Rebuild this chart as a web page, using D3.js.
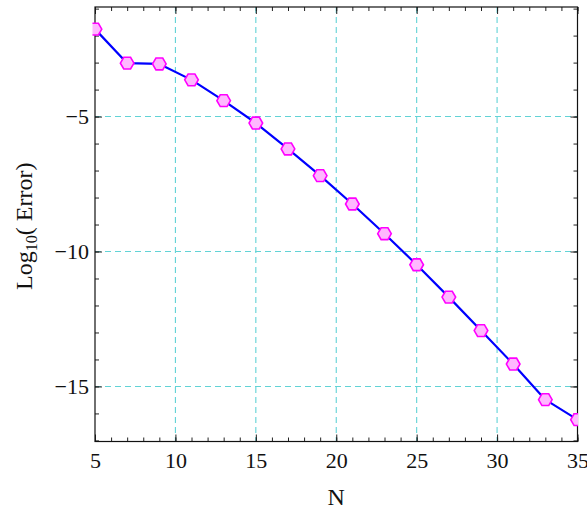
<!DOCTYPE html>
<html>
<head>
<meta charset="utf-8">
<script src="https://cdn.jsdelivr.net/npm/d3@7"></script>
<style>
  html, body { margin: 0; padding: 0; background: #fff; }
  svg { display: block; font-family: "Liberation Serif", "DejaVu Serif", serif; }
</style>
</head>
<body>
<div id="vizHolder"></div>
<script>
// values
var nValues   = [5, 7, 9, 11, 13, 15, 17, 19, 21, 23, 25, 27, 29, 31, 33, 35],
    logError  = [-1.76, -3.02, -3.05, -3.64, -4.41, -5.24, -6.20, -7.19, -8.24, -9.34, -10.49, -11.69, -12.93, -14.17, -15.49, -16.23],
    xTicks    = [5, 10, 15, 20, 25, 30, 35],
    yTicks    = [-5, -10, -15],
    xGrid     = [10, 15, 20, 25, 30],
    yGrid     = [-5, -10, -15],
    xMinor    = d3.range(5, 36, 1),
    yMinor    = d3.range(-17, 0, 1);

var width = 587,
    height = 510,
    m = { left: 95, right: 577.5, top: 7, bottom: 441.5 };

var x = d3.scaleLinear().domain([5, 35]).range([m.left, m.right]);
var y = d3.scaleLinear().domain([-17.04, -0.94]).range([m.bottom, m.top]);

var svg = d3.select('#vizHolder')
  .append('svg')
  .attr('width', width)
  .attr('height', height);

svg.append('rect').attr('width', width).attr('height', height).attr('fill', '#fff');

svg.append('clipPath').attr('id', 'plotClip')
  .append('rect')
  .attr('x', m.left - 2.5).attr('y', 0)
  .attr('width', m.right - m.left + 3).attr('height', height);

/* ----------- grid ----------- */
var grid = svg.append('g').attr('class', 'grid')
  .attr('stroke', '#62d3d6')
  .attr('stroke-width', 1.1)
  .attr('stroke-dasharray', '6,4');

grid.selectAll('line.gx').data(xGrid).enter()
  .append('line')
  .attr('class', 'gx')
  .attr('x1', function(d){ return x(d); })
  .attr('x2', function(d){ return x(d); })
  .attr('y1', m.top).attr('y2', m.bottom);

grid.selectAll('line.gy').data(yGrid).enter()
  .append('line')
  .attr('class', 'gy')
  .attr('y1', function(d){ return y(d); })
  .attr('y2', function(d){ return y(d); })
  .attr('x1', m.left).attr('x2', m.right);

/* ----------- axes (inward ticks on all four sides) ----------- */
function styleAxis(g){
  g.select('.domain').remove();
  g.selectAll('.tick line').attr('stroke', '#222').attr('stroke-width', 1);
  g.selectAll('.tick text')
    .attr('fill', '#111')
    .style('font-size', '22px')
    .style('font-family', '"Liberation Serif", serif');
}

var fmt = d3.format('d');

svg.append('g').attr('transform', 'translate(0,' + m.bottom + ')')
  .call(d3.axisBottom(x).tickValues(xMinor).tickSize(-4).tickFormat(''))
  .call(styleAxis);
svg.append('g').attr('transform', 'translate(0,' + m.bottom + ')')
  .call(d3.axisBottom(x).tickValues(xTicks).tickSize(-7).tickPadding(11).tickFormat(fmt))
  .call(styleAxis);

svg.append('g').attr('transform', 'translate(0,' + m.top + ')')
  .call(d3.axisTop(x).tickValues(xMinor).tickSize(-4).tickFormat(''))
  .call(styleAxis);
svg.append('g').attr('transform', 'translate(0,' + m.top + ')')
  .call(d3.axisTop(x).tickValues(xTicks).tickSize(-7).tickFormat(''))
  .call(styleAxis);

svg.append('g').attr('transform', 'translate(' + m.left + ',0)')
  .call(d3.axisLeft(y).tickValues(yMinor).tickSize(-4).tickFormat(''))
  .call(styleAxis);
svg.append('g').attr('transform', 'translate(' + m.left + ',0)')
  .call(d3.axisLeft(y).tickValues(yTicks).tickSize(-7).tickPadding(6).tickFormat(fmt))
  .call(styleAxis);

svg.append('g').attr('transform', 'translate(' + m.right + ',0)')
  .call(d3.axisRight(y).tickValues(yMinor).tickSize(-4).tickFormat(''))
  .call(styleAxis);
svg.append('g').attr('transform', 'translate(' + m.right + ',0)')
  .call(d3.axisRight(y).tickValues(yTicks).tickSize(-7).tickFormat(''))
  .call(styleAxis);

// frame
svg.append('rect')
  .attr('x', m.left).attr('y', m.top)
  .attr('width', m.right - m.left).attr('height', m.bottom - m.top)
  .attr('fill', 'none')
  .attr('stroke', '#111')
  .attr('stroke-width', 1.2);

/* ----------- line + markers ----------- */
var pts = nValues.map(function(n, i){ return [n, logError[i]]; });

var plot = svg.append('g').attr('clip-path', 'url(#plotClip)');

plot.append('path')
  .datum(pts)
  .attr('fill', 'none')
  .attr('stroke', '#0000ff')
  .attr('stroke-width', 2.2)
  .attr('stroke-linejoin', 'round')
  .attr('d', d3.line()
    .x(function(d){ return x(d[0]); })
    .y(function(d){ return y(d[1]); }));

var r = 6.8;
var hex = d3.range(6).map(function(k){
  var a = k * Math.PI / 3;
  return [r * Math.cos(a), r * Math.sin(a)];
});
var hexPath = 'M' + hex.map(function(p){ return p[0].toFixed(2) + ',' + p[1].toFixed(2); }).join('L') + 'Z';

plot.selectAll('path.marker').data(pts).enter()
  .append('path')
  .attr('class', 'marker')
  .attr('transform', function(d){ return 'translate(' + x(d[0]) + ',' + y(d[1]) + ')'; })
  .attr('d', hexPath)
  .attr('fill', '#ffb8ff')
  .attr('stroke', '#ff00ff')
  .attr('stroke-width', 1.6);

/* ----------- labels ----------- */
svg.append('text')
  .attr('x', (m.left + m.right) / 2)
  .attr('y', 505)
  .attr('text-anchor', 'middle')
  .style('font-size', '24px')
  .attr('fill', '#111')
  .text('N');

var yl = svg.append('text')
  .attr('transform', 'translate(32,' + ((m.top + m.bottom) / 2 + 2) + ') rotate(-90)')
  .attr('text-anchor', 'middle')
  .style('font-size', '24px')
  .attr('fill', '#111');
yl.append('tspan').text('Log');
yl.append('tspan').attr('dy', 5).style('font-size', '16px').text('10');
yl.append('tspan').attr('dy', -5).text('( Error)');
</script>
</body>
</html>
